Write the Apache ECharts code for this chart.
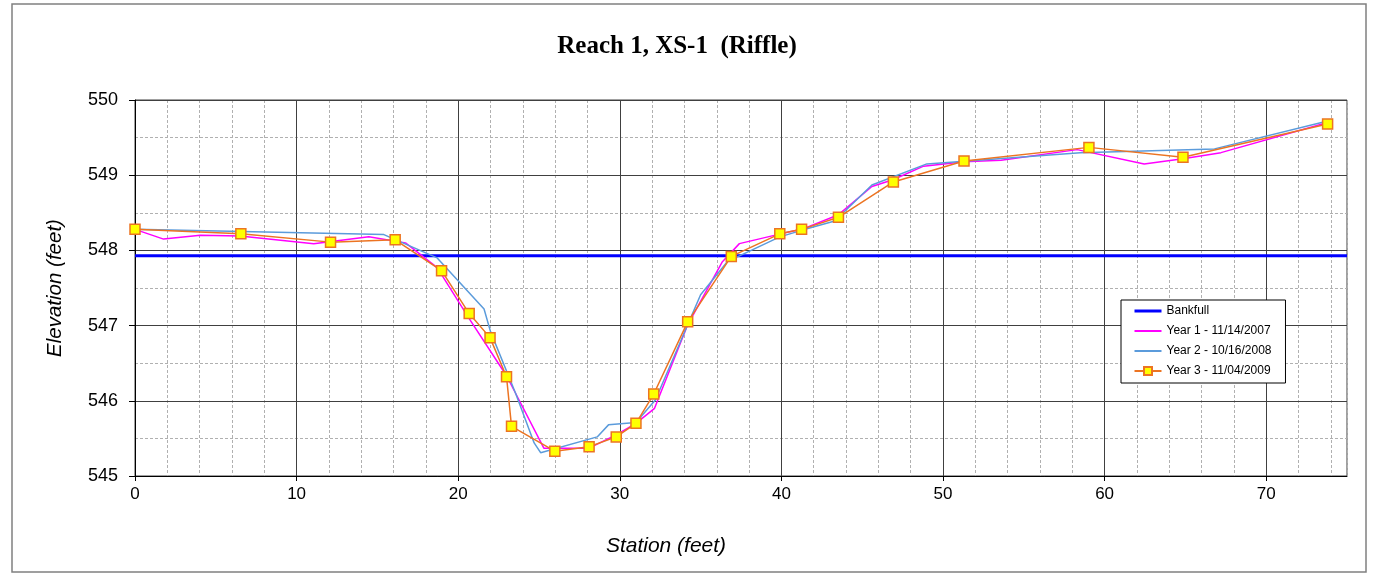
<!DOCTYPE html>
<html><head><meta charset="utf-8">
<script src="https://cdn.jsdelivr.net/npm/echarts@6/dist/echarts.min.js"></script>
<style>html,body{margin:0;padding:0;background:#fff}#c{width:1379px;height:584px}</style>
</head><body><div id="c"></div>
<script>
const titleText = 'Reach 1, XS-1  (Riffle)';
const xName = 'Station (feet)';
const yName = 'Elevation (feet)';
const xTicks = [0, 10, 20, 30, 40, 50, 60, 70];
const yTicks = [545, 546, 547, 548, 549, 550];

const bankfullStation = [0, 75];
const bankfullElev = [547.93, 547.93];

const y1Station = [0, 1.77, 4.04, 6.5, 11.06, 14.47, 16.74, 18.7, 20.66, 23.0, 25.3, 28.1, 29.8, 31.0, 32.15, 34.2, 36.35, 37.4, 39.95, 41.25, 43.5, 45.6, 46.9, 48.8, 51.3, 53.6, 58.3, 62.45, 64.85, 67.2, 73.8];
const y1Elev = [548.28, 548.15, 548.20, 548.19, 548.09, 548.18, 548.10, 547.77, 547.10, 546.33, 545.37, 545.37, 545.55, 545.70, 545.90, 547.01, 547.85, 548.09, 548.22, 548.28, 548.47, 548.85, 548.94, 549.12, 549.18, 549.20, 549.34, 549.15, 549.22, 549.30, 549.70];

const y2Station = [0, 15.4, 18.7, 21.6, 22.0, 23.55, 24.7, 25.1, 28.6, 29.3, 31.0, 32.2, 35.0, 36.65, 39.9, 41.3, 43.3, 45.6, 49.0, 58.5, 66.8, 73.8];
const y2Elev = [548.28, 548.21, 547.90, 547.22, 546.92, 546.10, 545.44, 545.31, 545.52, 545.68, 545.71, 546.01, 547.41, 547.85, 548.18, 548.27, 548.39, 548.87, 549.15, 549.30, 549.35, 549.72];

const y3Station = [0, 6.55, 12.1, 16.1, 18.97, 20.68, 21.97, 22.99, 23.3, 25.98, 28.1, 29.78, 31.0, 32.1, 34.2, 36.9, 39.9, 41.25, 43.53, 46.93, 51.3, 59.03, 64.85, 73.8];
const y3Elev = [548.28, 548.22, 548.11, 548.14, 547.73, 547.16, 546.84, 546.32, 545.66, 545.33, 545.39, 545.52, 545.70, 546.09, 547.05, 547.92, 548.22, 548.28, 548.44, 548.91, 549.19, 549.37, 549.24, 549.68];

const seriesNames = ['Bankfull', 'Year 1 - 11/14/2007', 'Year 2 - 10/16/2008', 'Year 3 - 11/04/2009'];

const zip = (a, b) => a.map((v, i) => [v, b[i]]);
const font = 'Liberation Sans, Arial, sans-serif';

const chart = echarts.init(document.getElementById('c'), null, {renderer: 'canvas'});
chart.setOption({
  animation: false,
  backgroundColor: '#fff',
  graphic: [
    {type: 'rect', shape: {x: 12, y: 4, width: 1354, height: 568}, style: {fill: 'none', stroke: '#808080', lineWidth: 1.5}, z: -10},
    {type: 'text', x: 677, y: 47, style: {text: titleText, textAlign: 'center', textVerticalAlign: 'middle', font: 'bold 25px "Liberation Serif", "Times New Roman", serif', fill: '#000'}},
    {type: 'text', x: 666, y: 546, style: {text: xName, textAlign: 'center', textVerticalAlign: 'middle', font: 'italic 21px ' + font, fill: '#000'}},
    {type: 'text', x: 55, y: 288, rotation: Math.PI / 2, style: {text: yName, textAlign: 'center', textVerticalAlign: 'middle', font: 'italic 20.5px ' + font, fill: '#000'}}
  ],
  grid: {left: 135, top: 100, width: 1212, height: 376, show: true, borderColor: '#404040', borderWidth: 1, backgroundColor: 'transparent'},
  legend: {
    orient: 'vertical', left: 1121, top: 300, itemWidth: 27, itemHeight: 10, itemGap: 8,
    padding: [5, 14, 6, 12], borderColor: '#000', borderWidth: 1, backgroundColor: '#fff',
    textStyle: {fontFamily: font, fontSize: 12, color: '#000'},
    data: [
      {name: seriesNames[0], itemStyle: {opacity: 0}, lineStyle: {width: 3}},
      {name: seriesNames[1], itemStyle: {opacity: 0}},
      {name: seriesNames[2], itemStyle: {opacity: 0}},
      {name: seriesNames[3]}
    ]
  },
  xAxis: [
    {type: 'value', min: 0, max: 75, interval: 10, z: 1,
     axisLine: {show: true, onZero: false, lineStyle: {color: '#000', width: 1}},
     axisTick: {show: true, length: 5, customValues: xTicks, lineStyle: {color: '#000'}},
     axisLabel: {customValues: xTicks, fontSize: 17, fontFamily: font, color: '#000', margin: 10},
     splitLine: {show: true, lineStyle: {color: '#404040', width: 1}}},
    {type: 'value', min: 0, max: 75, interval: 2, position: 'top', z: 0,
     axisLine: {show: false}, axisTick: {show: false}, axisLabel: {show: false},
     splitLine: {show: true, lineStyle: {color: '#b0b0b0', width: 1, type: [3, 2]}}}
  ],
  yAxis: [
    {type: 'value', min: 545, max: 550, interval: 1, z: 1,
     axisLine: {show: true, onZero: false, lineStyle: {color: '#000', width: 1}},
     axisTick: {show: true, length: 6, customValues: yTicks, lineStyle: {color: '#000'}},
     axisLabel: {customValues: yTicks, fontSize: 18, fontFamily: font, color: '#000', margin: 17},
     splitLine: {show: true, lineStyle: {color: '#404040', width: 1}}},
    {type: 'value', min: 545, max: 550, interval: 0.5, position: 'right', z: 0,
     axisLine: {show: false}, axisTick: {show: false}, axisLabel: {show: false},
     splitLine: {show: true, lineStyle: {color: '#b0b0b0', width: 1, type: [3, 2]}}}
  ],
  series: [
    {name: seriesNames[0], type: 'line', data: zip(bankfullStation, bankfullElev), symbol: 'none',
     lineStyle: {color: '#0000FF', width: 3}, itemStyle: {color: '#0000FF'}, z: 2},
    {name: seriesNames[1], type: 'line', data: zip(y1Station, y1Elev), symbol: 'none',
     lineStyle: {color: '#FF00FF', width: 1.5}, itemStyle: {color: '#FF00FF'}, z: 3},
    {name: seriesNames[2], type: 'line', data: zip(y2Station, y2Elev), symbol: 'none',
     lineStyle: {color: '#5B9BDB', width: 1.5}, itemStyle: {color: '#5B9BDB'}, z: 4},
    {name: seriesNames[3], type: 'line', data: zip(y3Station, y3Elev), symbol: 'rect', symbolSize: 10,
     lineStyle: {color: '#EC7422', width: 1.5},
     itemStyle: {color: '#FFFF00', borderColor: '#EC7422', borderWidth: 1.5}, z: 5}
  ]
});
</script>
</body></html>
